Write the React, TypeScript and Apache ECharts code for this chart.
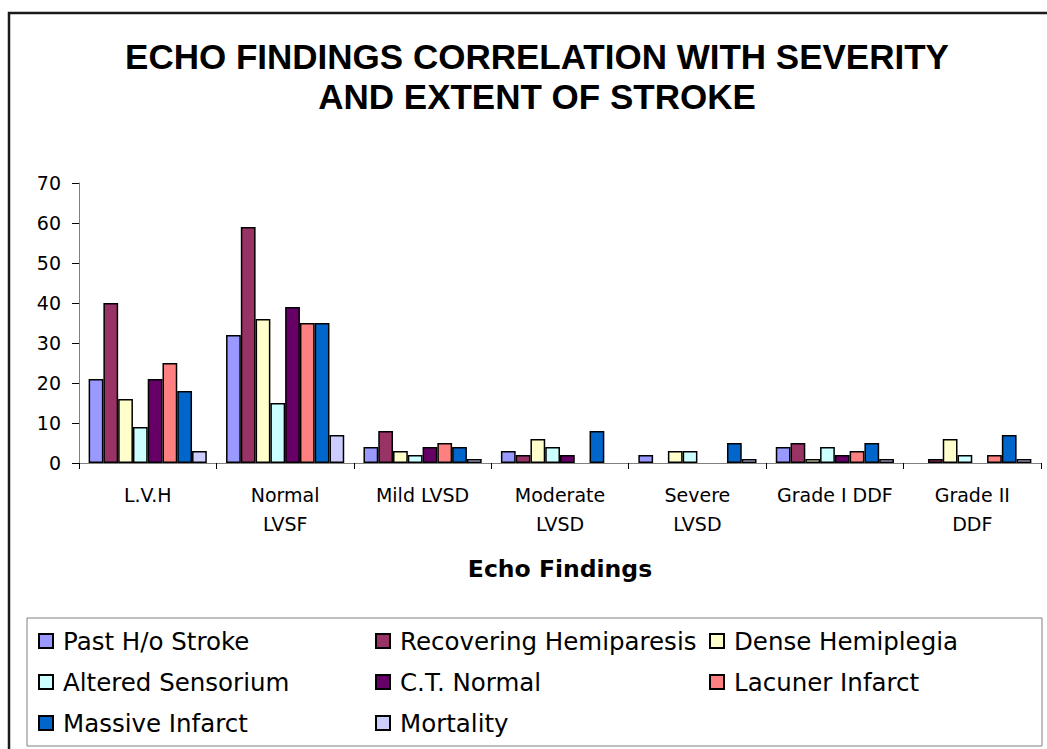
import React, { useEffect, useRef } from "react";
import * as echarts from "echarts";

const categories = [
  "L.V.H",
  "Normal\nLVSF",
  "Mild LVSD",
  "Moderate\nLVSD",
  "Severe\nLVSD",
  "Grade I DDF",
  "Grade II\nDDF",
];

const seriesNames = [
  "Past H/o Stroke",
  "Recovering Hemiparesis",
  "Dense Hemiplegia",
  "Altered Sensorium",
  "C.T. Normal",
  "Lacuner Infarct",
  "Massive Infarct",
  "Mortality",
];

const pastStroke = [21, 32, 4, 3, 2, 4, 0];
const recoveringHemiparesis = [40, 59, 8, 2, 0, 5, 1];
const denseHemiplegia = [16, 36, 3, 6, 3, 1, 6];
const alteredSensorium = [9, 15, 2, 4, 3, 4, 2];
const ctNormal = [21, 39, 4, 2, 0, 2, 0];
const lacunerInfarct = [25, 35, 5, 0, 0, 3, 2];
const massiveInfarct = [18, 35, 4, 8, 5, 5, 7];
const mortality = [3, 7, 1, 0, 1, 1, 1];

const seriesValues = [
  pastStroke,
  recoveringHemiparesis,
  denseHemiplegia,
  alteredSensorium,
  ctNormal,
  lacunerInfarct,
  massiveInfarct,
  mortality,
];

const colors = [
  "#9999FF",
  "#993366",
  "#FFFFCC",
  "#CCFFFF",
  "#660066",
  "#FF8080",
  "#0066CC",
  "#CCCCFF",
];

const yTicks = [0, 10, 20, 30, 40, 50, 60, 70];

const legendColumns = [
  ["Past H/o Stroke", "Altered Sensorium", "Massive Infarct"],
  ["Recovering Hemiparesis", "C.T. Normal", "Mortality"],
  ["Dense Hemiplegia", "Lacuner Infarct"],
];
const legendLefts = [38, 375, 709];

export default function App() {
  const ref = useRef<HTMLDivElement>(null);

  useEffect(() => {
    if (!ref.current) return;
    const chart = echarts.init(ref.current, undefined, { renderer: "svg" });
    const font = "DejaVu Sans";
    const option: any = {
      animation: false,
      backgroundColor: "#ffffff",
      title: {
        text: "ECHO FINDINGS CORRELATION WITH SEVERITY\nAND EXTENT OF STROKE",
        left: 537,
        top: 36,
        padding: 0,
        textAlign: "center",
        textStyle: {
          fontFamily: "Liberation Sans",
          fontSize: 35,
          fontWeight: "bold",
          lineHeight: 40,
          color: "#000",
        },
      },
      legend: legendColumns.map((col, i) => ({
        data: col,
        orient: "vertical",
        left: legendLefts[i],
        top: 627,
        padding: 0,
        itemGap: 13,
        itemWidth: 14,
        itemHeight: 14,
        icon: "rect",
        selectedMode: false,
        textStyle: {
          fontFamily: font,
          fontSize: 24.5,
          lineHeight: 28,
          color: "#000",
          padding: [0, 0, 0, 5],
        },
      })),
      grid: {
        left: 79,
        right: 6,
        top: 183,
        bottom: 286,
        containLabel: false,
      },
      xAxis: {
        type: "category",
        data: categories,
        boundaryGap: true,
        axisLine: { lineStyle: { color: "#808080", width: 1 } },
        axisTick: { show: true, length: 6, lineStyle: { color: "#000" } },
        axisLabel: {
          interval: 0,
          margin: 17,
          fontFamily: font,
          fontSize: 19,
          lineHeight: 29,
          color: "#000",
        },
        name: "Echo Findings",
        nameLocation: "middle",
        nameGap: 94,
        nameTextStyle: {
          fontFamily: font,
          fontSize: 23.5,
          fontWeight: "bold",
          color: "#000",
        },
      },
      yAxis: {
        type: "value",
        min: yTicks[0],
        max: yTicks[yTicks.length - 1],
        interval: 10,
        axisLine: { show: true, lineStyle: { color: "#808080", width: 1 } },
        axisTick: { show: true, length: 7, lineStyle: { color: "#000" } },
        splitLine: { show: false },
        axisLabel: {
          margin: 18,
          fontFamily: font,
          fontSize: 19,
          color: "#000",
        },
      },
      series: seriesNames.map((name, i) => ({
        name,
        type: "bar",
        barGap: "0%",
        barCategoryGap: "14%",
        data: seriesValues[i].map((v) => (v === 0 ? "-" : v)),
        itemStyle: {
          color: colors[i],
          borderColor: "#000",
          borderWidth: 1.5,
        },
      })),
      graphic: [
        {
          type: "rect",
          shape: { x: 9, y: 13, width: 1100, height: 800 },
          style: { fill: "none", stroke: "#1a1a1a", lineWidth: 2.5 },
          silent: true,
          z: 100,
        },
        {
          type: "rect",
          shape: { x: 27, y: 618, width: 1015, height: 128 },
          style: { fill: "none", stroke: "#808080", lineWidth: 1 },
          silent: true,
          z: 100,
        },
      ],
    };
    chart.setOption(option);
    return () => chart.dispose();
  }, []);

  return (
    <div
      ref={ref}
      style={{ position: "fixed", left: 0, top: 0, width: 1047, height: 749 }}
    />
  );
}
